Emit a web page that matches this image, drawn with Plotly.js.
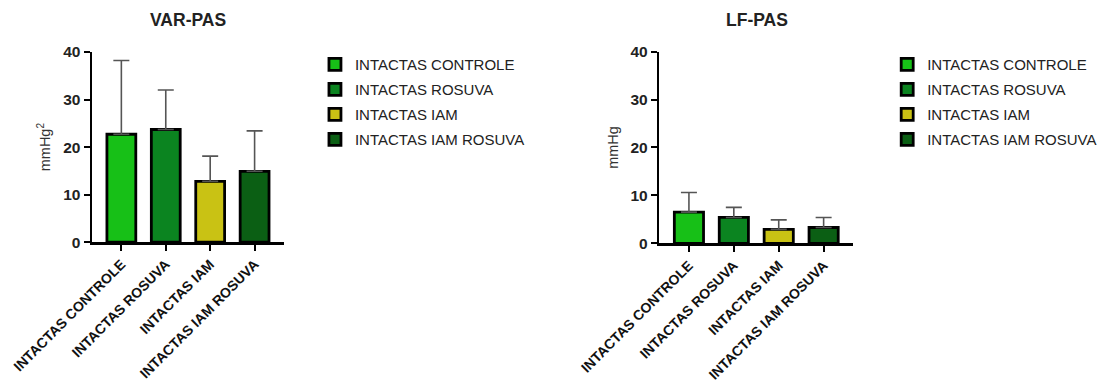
<!DOCTYPE html>
<html>
<head>
<meta charset="utf-8">
<script src="https://cdn.plot.ly/plotly-3.0.1.min.js"></script>
<style>
  html, body { margin: 0; padding: 0; background: #fff; }
  #chart { width: 1109px; height: 385px; }
</style>
</head>
<body>
<div id="chart"></div>
<script>
// Groups and their fill colours
const groups = ["INTACTAS CONTROLE", "INTACTAS ROSUVA", "INTACTAS IAM", "INTACTAS IAM ROSUVA"];
const groupColors = ["#17c017", "#0b8420", "#c9c214", "#0b5f14"];

// VAR-PAS (mmHg²): means and upper SD
const varPasMean = [22.7, 23.7, 12.8, 14.9];
const varPasSD = [15.5, 8.3, 5.3, 8.5];

// LF-PAS (mmHg): means and upper SD
const lfPasMean = [6.5, 5.4, 2.9, 3.3];
const lfPasSD = [4.1, 2.1, 2.0, 2.1];

const yTicks = [0, 10, 20, 30, 40];

const FONT = "Liberation Sans, Arial, sans-serif";

function panelTraces(means, sds, xa, ya, legendId) {
  return groups.map((g, i) => ({
    type: "bar",
    x: [g],
    y: [means[i]],
    name: g,
    legendgroup: legendId + "-" + i,
    xaxis: xa,
    yaxis: ya,
    legend: legendId,
    width: 0.65,
    marker: { color: groupColors[i], line: { color: "#000", width: 2.8 } },
    error_y: {
      type: "data",
      symmetric: false,
      array: [sds[i]],
      arrayminus: [0],
      color: "#555",
      thickness: 1.6,
      width: 8
    },
    hoverinfo: "skip"
  }));
}

const data = [
  ...panelTraces(varPasMean, varPasSD, "x", "y", "legend"),
  ...panelTraces(lfPasMean, lfPasSD, "x2", "y2", "legend2")
];

function xAxis(domain, anchor) {
  return {
    domain: domain,
    anchor: anchor,
    type: "category",
    categoryorder: "array",
    categoryarray: groups,
    range: [-0.66, 3.66],
    showline: true,
    linecolor: "#000",
    linewidth: 2.5,
    ticks: "outside",
    ticklen: 6,
    tickwidth: 2,
    tickcolor: "#000",
    tickangle: -45,
    tickfont: { family: FONT, size: 14, color: "#111", weight: "bold" },
    showgrid: false,
    zeroline: false,
    fixedrange: true
  };
}

function yAxis(domain, anchor, titleText) {
  return {
    domain: domain,
    anchor: anchor,
    range: [0, 40],
    tickvals: yTicks,
    ticktext: yTicks.map(String),
    showline: true,
    linecolor: "#000",
    linewidth: 2.5,
    ticks: "outside",
    ticklen: 6,
    tickwidth: 2,
    tickcolor: "#000",
    tickfont: { family: FONT, size: 15.5, color: "#222", weight: "bold" },
    showgrid: false,
    zeroline: false,
    title: { text: titleText, font: { family: FONT, size: 14.5, color: "#333" }, standoff: 9 },
    fixedrange: true
  };
}

const legendFont = { family: FONT, size: 15, color: "#222" };

const layout = {
  width: 1109,
  height: 385,
  margin: { l: 0, r: 0, t: 0, b: 0 },
  paper_bgcolor: "#fff",
  plot_bgcolor: "#fff",
  barmode: "overlay",
  showlegend: true,
  xaxis: xAxis([0.083, 0.256], "y"),
  yaxis: yAxis([0.371, 0.865], "x", "mmHg<sup>2</sup>"),
  xaxis2: xAxis([0.5945, 0.7694], "y2"),
  yaxis2: yAxis([0.368, 0.866], "x2", "mmHg"),
  legend: {
    x: 0.284, y: 0.875, xanchor: "left", yanchor: "top",
    font: legendFont, tracegroupgap: 2.5, itemwidth: 30,
    bgcolor: "rgba(0,0,0,0)", itemclick: false, itemdoubleclick: false
  },
  legend2: {
    x: 0.800, y: 0.875, xanchor: "left", yanchor: "top",
    font: legendFont, tracegroupgap: 2.5, itemwidth: 30,
    bgcolor: "rgba(0,0,0,0)", itemclick: false, itemdoubleclick: false
  },
  annotations: [
    {
      text: "<b>VAR-PAS</b>", xref: "paper", yref: "paper",
      x: 0.1695, y: 0.948, xanchor: "center", yanchor: "middle",
      showarrow: false, font: { family: FONT, size: 17.5, color: "#222" }
    },
    {
      text: "<b>LF-PAS</b>", xref: "paper", yref: "paper",
      x: 0.6825, y: 0.948, xanchor: "center", yanchor: "middle",
      showarrow: false, font: { family: FONT, size: 17.5, color: "#222" }
    }
  ]
};

Plotly.newPlot("chart", data, layout, { displayModeBar: false, staticPlot: true });
</script>
</body>
</html>
